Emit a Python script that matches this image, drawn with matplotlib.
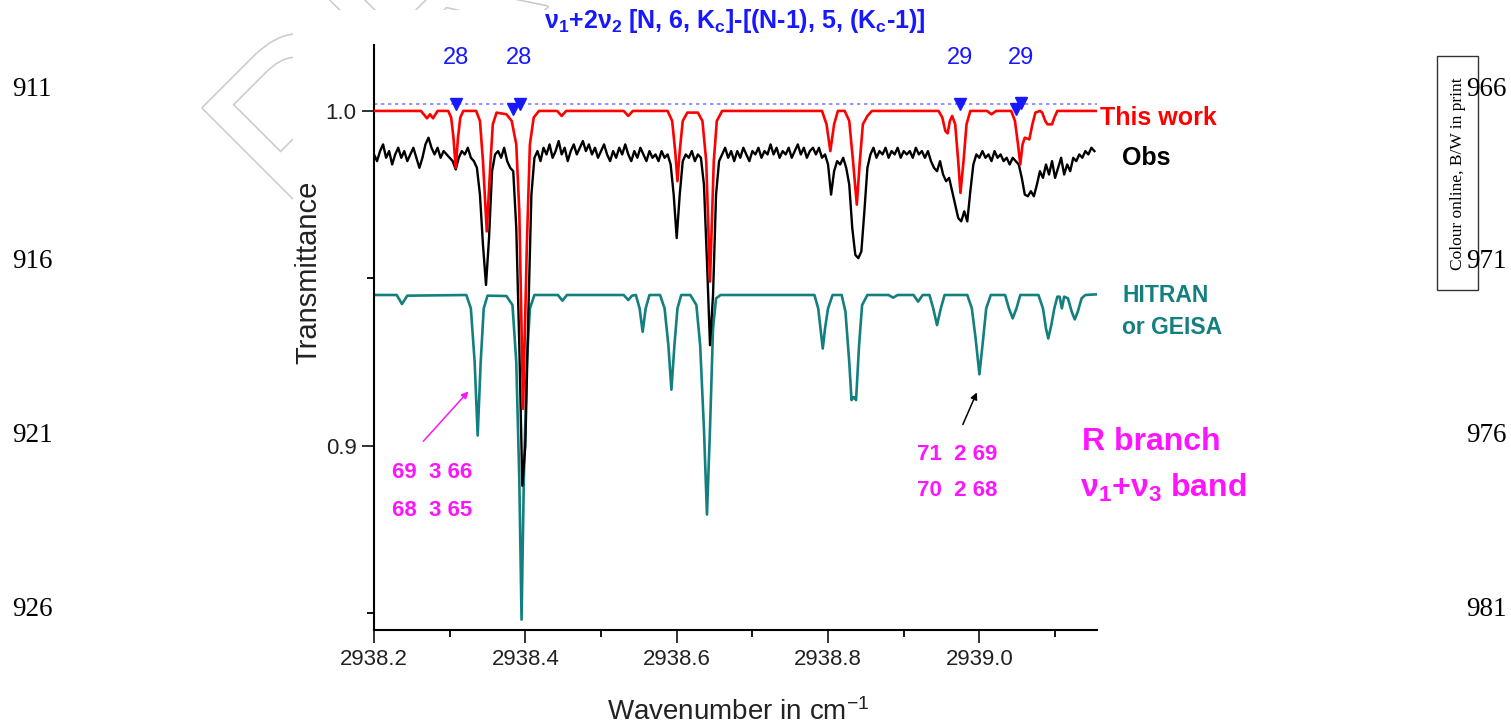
import numpy as np
import matplotlib
matplotlib.use("Agg")
import matplotlib.pyplot as plt
from matplotlib import patheffects
from matplotlib.patches import Rectangle

plt.rcParams['font.family'] = ['Liberation Sans', 'DejaVu Sans']

# ---- values ----
# calculated spectrum, "This work"
calc_wn = [2938.200, 2938.262, 2938.270, 2938.274, 2938.278, 2938.284,
           2938.298, 2938.302, 2938.305, 2938.308, 2938.311, 2938.314, 2938.318,
           2938.335, 2938.340, 2938.344, 2938.349, 2938.354, 2938.357, 2938.362,
           2938.375, 2938.382, 2938.388, 2938.392, 2938.397, 2938.402, 2938.406, 2938.411, 2938.418,
           2938.442, 2938.448, 2938.454,
           2938.530, 2938.536, 2938.542,
           2938.588, 2938.594, 2938.598, 2938.601, 2938.604, 2938.608, 2938.614,
           2938.628, 2938.634, 2938.639, 2938.644, 2938.649, 2938.653, 2938.660,
           2938.792, 2938.798, 2938.803, 2938.808, 2938.813,
           2938.822, 2938.828, 2938.833, 2938.838, 2938.842, 2938.846, 2938.852, 2938.858,
           2938.946, 2938.951, 2938.955, 2938.958, 2938.961, 2938.964, 2938.968, 2938.972,
           2938.975, 2938.979, 2938.983, 2938.988,
           2939.010, 2939.016, 2939.022,
           2939.042, 2939.047, 2939.051, 2939.054, 2939.057, 2939.060, 2939.066, 2939.070,
           2939.074, 2939.080,
           2939.083, 2939.087, 2939.090, 2939.096, 2939.099, 2939.103, 2939.155]
calc_tr = [1.0, 1.0, 0.9978, 0.9990, 0.9978, 1.0,
           1.0, 0.998, 0.992, 0.983, 0.992, 0.998, 1.0,
           1.0, 0.997, 0.985, 0.964, 0.985, 0.996, 0.9995,
           0.999, 0.997, 0.990, 0.970, 0.911, 0.960, 0.990, 0.998, 1.0,
           1.0, 0.9985, 1.0,
           1.0, 0.9985, 1.0,
           1.0, 0.997, 0.988, 0.979, 0.988, 0.997, 0.9995,
           0.9995, 0.997, 0.985, 0.949, 0.985, 0.997, 1.0,
           1.0, 0.996, 0.988, 0.996, 1.0,
           1.0, 0.997, 0.985, 0.972, 0.985, 0.996, 0.9985, 1.0,
           1.0, 0.998, 0.994, 0.9933, 0.997, 0.9985, 0.996, 0.985,
           0.9755, 0.985, 0.996, 1.0,
           1.0, 0.999, 1.0,
           1.0, 0.997, 0.990, 0.984, 0.990, 0.992, 0.9915, 0.996,
           0.9995, 1.0,
           0.9995, 0.997, 0.996, 0.996, 0.998, 1.0, 1.0]

# HITRAN / GEISA spectrum
hit_wn = [2938.200, 2938.230, 2938.237, 2938.244,
          2938.322, 2938.328, 2938.333, 2938.337, 2938.341, 2938.345, 2938.350,
          2938.375, 2938.383, 2938.388, 2938.392, 2938.395, 2938.398, 2938.402, 2938.406, 2938.412,
          2938.443, 2938.449, 2938.455,
          2938.530, 2938.536, 2938.541,
          2938.546, 2938.551, 2938.555, 2938.559, 2938.564,
          2938.578, 2938.584, 2938.589, 2938.593, 2938.597, 2938.601, 2938.606,
          2938.618, 2938.626, 2938.631, 2938.636, 2938.640, 2938.644, 2938.648, 2938.652, 2938.658,
          2938.782, 2938.787, 2938.790, 2938.793, 2938.796, 2938.800, 2938.806,
          2938.818, 2938.823, 2938.828, 2938.831, 2938.834, 2938.837, 2938.841, 2938.845, 2938.852,
          2938.880, 2938.886, 2938.892,
          2938.913, 2938.919, 2938.925,
          2938.934, 2938.939, 2938.944, 2938.949, 2938.954,
          2938.984, 2938.990, 2938.995, 2939.000, 2939.005, 2939.009, 2939.015,
          2939.034, 2939.039, 2939.044, 2939.049, 2939.054,
          2939.078, 2939.084, 2939.088, 2939.091, 2939.095, 2939.099, 2939.103, 2939.106,
          2939.109, 2939.112, 2939.117, 2939.122, 2939.126, 2939.130, 2939.135, 2939.140, 2939.155]
hit_tr = [0.945, 0.945, 0.9423, 0.9448,
          0.945, 0.941, 0.925, 0.903, 0.925, 0.941, 0.9448,
          0.9447, 0.942, 0.925, 0.890, 0.848, 0.890, 0.925, 0.941, 0.945,
          0.945, 0.9433, 0.945,
          0.945, 0.9435, 0.9448,
          0.945, 0.941, 0.934, 0.941, 0.945,
          0.945, 0.941, 0.930, 0.9167, 0.930, 0.941, 0.945,
          0.945, 0.942, 0.930, 0.905, 0.8794, 0.905, 0.935, 0.944, 0.945,
          0.945, 0.941, 0.935, 0.929, 0.935, 0.941, 0.945,
          0.945, 0.940, 0.925, 0.9136, 0.9145, 0.9136, 0.930, 0.942, 0.945,
          0.945, 0.9442, 0.945,
          0.945, 0.943, 0.945,
          0.945, 0.941, 0.936, 0.941, 0.945,
          0.945, 0.941, 0.932, 0.9213, 0.932, 0.941, 0.945,
          0.945, 0.941, 0.938, 0.941, 0.945,
          0.945, 0.941, 0.935, 0.932, 0.936, 0.941, 0.9445, 0.9445,
          0.941, 0.9445, 0.944, 0.940, 0.9377, 0.940, 0.944, 0.945, 0.9452]

# observed spectrum, sampled every 0.004 cm-1 from 2938.200
obs_start, obs_step = 2938.200, 0.004
obs_tr = [0.987, 0.985, 0.988, 0.990, 0.986, 0.988, 0.984, 0.987, 0.989, 0.986,
          0.988, 0.985, 0.987, 0.989, 0.986, 0.983, 0.986, 0.990, 0.992, 0.989,
          0.987, 0.989, 0.986, 0.988, 0.987, 0.986, 0.985, 0.9825, 0.986, 0.988,
          0.987, 0.989, 0.986, 0.985, 0.983, 0.975, 0.960, 0.948, 0.962, 0.982,
          0.987, 0.988, 0.986, 0.989, 0.985, 0.983, 0.982, 0.965, 0.930, 0.888,
          0.900, 0.940, 0.975, 0.986, 0.988, 0.985, 0.989, 0.987, 0.990, 0.986,
          0.988, 0.991, 0.987, 0.989, 0.985, 0.988, 0.990, 0.987, 0.989, 0.991,
          0.988, 0.990, 0.987, 0.989, 0.986, 0.988, 0.990, 0.987, 0.985, 0.988,
          0.986, 0.989, 0.987, 0.990, 0.987, 0.985, 0.988, 0.986, 0.989, 0.987,
          0.985, 0.988, 0.986, 0.987, 0.985, 0.988, 0.986, 0.987, 0.984, 0.975,
          0.962, 0.975, 0.985, 0.987, 0.986, 0.988, 0.985, 0.987, 0.986, 0.978,
          0.955, 0.930, 0.945, 0.975, 0.985, 0.987, 0.989, 0.986, 0.988, 0.985,
          0.988, 0.986, 0.989, 0.987, 0.985, 0.988, 0.987, 0.989, 0.986, 0.988,
          0.987, 0.990, 0.987, 0.989, 0.986, 0.988, 0.987, 0.989, 0.986, 0.988,
          0.990, 0.987, 0.989, 0.986, 0.988, 0.989, 0.987, 0.989, 0.986, 0.987,
          0.984, 0.975, 0.982, 0.985, 0.984, 0.986, 0.983, 0.978, 0.965, 0.957,
          0.956, 0.958, 0.970, 0.983, 0.987, 0.989, 0.986, 0.988, 0.987, 0.989,
          0.986, 0.988, 0.987, 0.989, 0.986, 0.988, 0.987, 0.988, 0.986, 0.989,
          0.987, 0.988, 0.986, 0.988, 0.985, 0.983, 0.982, 0.985, 0.981, 0.979,
          0.980, 0.976, 0.972, 0.968, 0.967, 0.970, 0.967, 0.976, 0.984, 0.987,
          0.986, 0.988, 0.986, 0.987, 0.985, 0.988, 0.986, 0.987, 0.985, 0.986,
          0.984, 0.986, 0.985, 0.984, 0.980, 0.975, 0.9745, 0.976, 0.9745, 0.978,
          0.982, 0.980, 0.984, 0.981, 0.985, 0.980, 0.983, 0.986, 0.981, 0.984,
          0.982, 0.986, 0.985, 0.987, 0.986, 0.988, 0.987, 0.989, 0.988]
obs_wn = obs_start + obs_step * np.arange(len(obs_tr))

# assigned nu1+2nu2 lines (blue triangles) and their N labels
mark_wn = [2938.308, 2938.384, 2938.393, 2938.975, 2939.048, 2939.055]
mark_tr = [1.002, 1.0006, 1.002, 1.002, 1.0006, 1.0024]
n_wn = [2938.308, 2938.392, 2938.974, 2939.055]
n_lbl = ['28', '28', '29', '29']

xticks = [2938.2, 2938.4, 2938.6, 2938.8, 2939.0]
xminor = [2938.3, 2938.5, 2938.7, 2938.9, 2939.1]
yticks = [0.9, 1.0]
yminor = [0.85, 0.95]

line_nums_left = ['911', '916', '921', '926']
line_nums_right = ['966', '971', '976', '981']

# ---- figure ----
W, H = 1511, 724


def fx(px):
    return px / W


def fy(py):
    return 1 - py / H


fig = plt.figure(figsize=(W / 100, H / 100), dpi=100)

# proof watermark behind the pasted figure
fig.text(fx(310), fy(244), 'PROOF', rotation=45, rotation_mode='anchor',
         ha='left', va='baseline', fontsize=180, color='white', zorder=-3,
         path_effects=[patheffects.Stroke(linewidth=2.2, foreground='#c9c9c9'),
                       patheffects.Normal()])
fig.add_artist(Rectangle((fx(293), 0), fx(1290) - fx(293), fy(10),
                         transform=fig.transFigure, facecolor='white',
                         edgecolor='none', zorder=-2))

ax = fig.add_axes([fx(374), fy(630), fx(1096.7) - fx(374), fy(45) - fy(630)])
ax.set_xlim(2938.2, 2939.155)
ax.set_ylim(0.8449, 1.0197)

teal = '#13807f'
magenta = '#ff14ff'
blue = '#1818ff'

ax.plot(hit_wn, hit_tr, color=teal, lw=1.9, zorder=2)
ax.plot(obs_wn, obs_tr, color='black', lw=1.7, zorder=3)
ax.plot(calc_wn, calc_tr, color='#ff0000', lw=1.9, zorder=4)
ax.axhline(1.002, color='#8080ff', lw=1.2, ls=(0, (2, 2.2)), zorder=1)
ax.plot(mark_wn, mark_tr, 'v', color=blue, ms=8, mec=blue, zorder=5)

for x, s in zip(n_wn, n_lbl):
    ax.text(x, 1.0158, s, ha='center', va='center', color=blue, fontsize=17,
            clip_on=False)

ax.set_xticks(xticks)
ax.set_xticklabels(['%.1f' % v for v in xticks])
ax.set_xticks(xminor, minor=True)
ax.set_yticks(yticks)
ax.set_yticklabels(['0.9', '1.0'])
ax.set_yticks(yminor, minor=True)
for s in ['top', 'right']:
    ax.spines[s].set_visible(False)
for s in ['left', 'bottom']:
    ax.spines[s].set_linewidth(1.5)
ax.tick_params(axis='x', which='major', length=9.5, width=1.3, labelsize=16,
               pad=4, colors='#222222')
ax.tick_params(axis='x', which='minor', length=5, width=1.3)
ax.tick_params(axis='y', which='major', length=8.5, width=1.3, labelsize=16,
               pad=4, colors='#222222')
ax.tick_params(axis='y', which='minor', length=5, width=1.3)

# arrows pointing to the labelled HITRAN lines
ax.annotate('', xy=(2938.3247, 0.9162), xytext=(2938.2652, 0.9013),
            arrowprops=dict(arrowstyle='-|>', color=magenta, lw=1.1,
                            mutation_scale=10, shrinkA=0, shrinkB=0))
ax.annotate('', xy=(2938.9966, 0.9159), xytext=(2938.9781, 0.9063),
            arrowprops=dict(arrowstyle='-|>', color='black', lw=1.1,
                            mutation_scale=10, shrinkA=0, shrinkB=0))

# texts
fig.text(fx(735), fy(21),
         r'ν$\mathregular{_1}$+2ν$\mathregular{_2}$ [N, 6, K$\mathregular{_c}$]-[(N-1), 5, (K$\mathregular{_c}$-1)]',
         ha='center', va='center', color=blue, fontsize=18, fontweight='bold')
fig.text(fx(1100), fy(118), 'This work', ha='left', va='center',
         color='#ff0000', fontsize=18, fontweight='bold')
fig.text(fx(1122), fy(158), 'Obs', ha='left', va='center',
         color='black', fontsize=18, fontweight='bold')
fig.text(fx(1122), fy(295), 'HITRAN', ha='left', va='center',
         color=teal, fontsize=16.5, fontweight='bold')
fig.text(fx(1122), fy(327), 'or GEISA', ha='left', va='center',
         color=teal, fontsize=16.5, fontweight='bold')
fig.text(fx(1082), fy(442), 'R branch', ha='left', va='center',
         color=magenta, fontsize=23, fontweight='bold')
fig.text(fx(1080), fy(488), r'ν$\mathregular{_1}$+ν$\mathregular{_3}$ band',
         ha='left', va='center', color=magenta, fontsize=23, fontweight='bold')
fig.text(fx(917), fy(454), '71  2 69', ha='left', va='center',
         color=magenta, fontsize=16, fontweight='bold')
fig.text(fx(917), fy(490), '70  2 68', ha='left', va='center',
         color=magenta, fontsize=16, fontweight='bold')
fig.text(fx(392), fy(473), '69  3 66', ha='left', va='center',
         color=magenta, fontsize=16, fontweight='bold')
fig.text(fx(392), fy(510), '68  3 65', ha='left', va='center',
         color=magenta, fontsize=16, fontweight='bold')

fig.text(fx(308), fy(272), 'Transmittance', rotation=90, ha='center',
         va='center', fontsize=21, color='#222222')
fig.text(fx(738), fy(712), r'Wavenumber in cm$\mathregular{^{-1}}$',
         ha='center', va='center', fontsize=20, color='#222222')

# page furniture: line numbers and colour note
for py, a, b in zip([89, 262, 436, 609], line_nums_left, line_nums_right):
    fig.text(fx(12), fy(py), a, ha='left', va='center', fontsize=19.5,
             family='Liberation Serif')
    fig.text(fx(1466), fy(py), b, ha='left', va='center', fontsize=19.5,
             family='Liberation Serif')
fig.add_artist(Rectangle((fx(1437), fy(290)), fx(1478) - fx(1437),
                         fy(56) - fy(290), transform=fig.transFigure,
                         facecolor='none', edgecolor='#333333', lw=1))
fig.text(fx(1458), fy(174), 'Colour online, B/W in print', rotation=90,
         ha='center', va='center', fontsize=12.5, family='Liberation Serif')

fig.savefig('out.png', dpi=100)
